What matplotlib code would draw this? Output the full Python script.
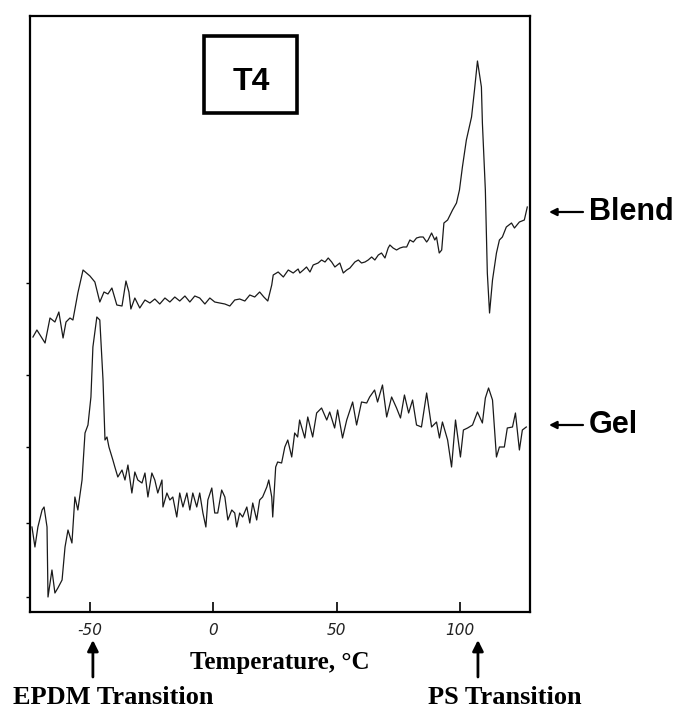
import numpy as np
import matplotlib
matplotlib.use("Agg")
import matplotlib.pyplot as plt
from matplotlib.patches import Rectangle

# DMTA-type traces (signal in arbitrary units)
blend_temp = [-73.1, -71.5, -68.2, -66.2, -64.2, -62.6, -60.9, -59.7, -58.1, -56.9,
              -54.9, -52.8, -50.0, -48.0, -46.0, -44.3, -42.7, -41.1, -39.1, -37.0,
              -35.4, -34.2, -33.4, -31.8, -29.8, -27.7, -25.7, -23.7, -21.7, -19.6,
              -17.6, -15.6, -13.6, -11.5, -9.5, -7.5, -5.5, -3.4, -1.4, 0.6,
              2.6, 4.7, 6.7, 8.7, 10.7, 12.8, 14.8, 16.8, 18.8, 20.5,
              22.1, 23.7, 24.3, 26.3, 28.4, 30.4, 32.4, 34.4, 35.1, 36.5,
              37.8, 39.2, 40.5, 42.5, 43.9, 45.3, 46.6, 48.0, 49.3, 51.3,
              52.7, 54.1, 55.4, 57.4, 58.8, 60.1, 61.5, 62.8, 64.2, 65.5,
              66.9, 68.2, 69.6, 70.9, 71.6, 72.9, 74.3, 75.7, 77.0, 78.4,
              79.7, 81.1, 82.4, 83.8, 85.1, 86.5, 87.1, 88.5, 89.8, 90.5,
              91.6, 92.6, 93.5, 95.0, 97.0, 98.6, 99.8, 101.0, 102.6, 104.7,
              105.9, 107.1, 108.7, 109.1, 110.3, 111.1, 112.0, 113.2, 114.8, 116.0,
              117.2, 118.8, 120.9, 122.1, 124.1, 126.1, 127.3]
blend_sig = [275, 282, 269, 294, 290, 300, 274, 290, 294, 292,
             319, 342, 336, 330, 310, 320, 318, 324, 307, 306,
             331, 320, 303, 314, 304, 312, 309, 313, 308, 314,
             310, 315, 311, 316, 310, 316, 314, 308, 314, 310,
             309, 308, 306, 312, 313, 311, 317, 315, 320, 315,
             311, 327, 337, 340, 335, 342, 339, 343, 339, 342,
             345, 340, 347, 349, 352, 350, 354, 350, 345, 349,
             339, 342, 344, 350, 352, 349, 350, 352, 355, 352,
             357, 359, 354, 364, 367, 364, 362, 364, 365, 365,
             372, 370, 374, 375, 375, 370, 372, 379, 372, 375,
             359, 362, 389, 392, 402, 409, 422, 445, 472, 495,
             522, 551, 525, 489, 422, 339, 299, 332, 359, 372,
             375, 385, 389, 384, 390, 392, 405]

gel_temp = [-73.5, -72.3, -71.1, -69.4, -68.6, -67.4, -67.0, -65.4, -64.2, -63.0,
            -61.3, -60.1, -58.9, -57.3, -56.1, -54.9, -53.2, -52.0, -50.8, -49.6,
            -48.8, -47.2, -46.0, -44.7, -43.9, -43.1, -42.3, -40.7, -39.9, -38.7,
            -37.0, -35.8, -34.6, -33.0, -31.8, -30.6, -28.9, -27.7, -26.5, -24.9,
            -23.7, -22.5, -20.8, -20.4, -18.8, -17.6, -16.4, -14.8, -13.6, -12.3,
            -10.7, -9.5, -8.3, -6.7, -5.5, -4.2, -3.0, -2.2, -0.6, 0.6,
            1.8, 3.4, 4.7, 5.9, 7.5, 8.7, 9.5, 10.7, 11.9, 13.6,
            14.8, 16.0, 17.6, 18.8, 20.0, 21.7, 22.5, 23.7, 24.1, 25.3,
            26.1, 27.7, 29.0, 30.2, 31.8, 33.0, 34.2, 35.0, 37.1, 38.3,
            40.3, 41.9, 43.9, 46.0, 47.2, 49.2, 50.4, 52.4, 54.1, 56.5,
            58.1, 60.1, 62.2, 63.4, 65.4, 66.6, 68.6, 70.3, 72.3, 74.3,
            75.9, 77.5, 79.2, 80.8, 82.4, 84.4, 86.5, 88.5, 90.5, 91.7,
            92.9, 95.0, 96.6, 98.2, 100.2, 101.4, 103.1, 105.1, 107.1, 109.1,
            110.3, 111.6, 113.2, 114.8, 116.0, 118.0, 119.2, 121.3, 122.5, 124.1,
            125.3, 126.9]
gel_sig = [85, 65, 85, 102, 105, 85, 15, 42, 19, 24,
           32, 65, 82, 69, 115, 102, 132, 179, 187, 215,
           265, 295, 292, 232, 172, 175, 165, 152, 145, 135,
           142, 132, 147, 119, 140, 132, 129, 139, 115, 139,
           132, 119, 132, 105, 119, 112, 115, 95, 119, 105,
           119, 102, 119, 105, 119, 99, 85, 112, 124, 99,
           99, 122, 115, 92, 102, 99, 85, 99, 95, 105,
           89, 109, 92, 112, 115, 125, 132, 115, 95, 145,
           150, 149, 165, 172, 155, 179, 175, 192, 174, 195,
           175, 199, 204, 192, 200, 184, 202, 174, 192, 210,
           187, 210, 209, 215, 222, 210, 227, 195, 215, 204,
           194, 217, 199, 212, 187, 185, 219, 185, 190, 174,
           190, 172, 145, 192, 155, 182, 184, 187, 200, 189,
           214, 224, 212, 155, 165, 165, 184, 185, 199, 162,
           182, 185]

x_ticks = [-50, 0, 50, 100]
x_ticklabels = ['-50', '0', '50', '100']
y_ticks = [15, 89, 165, 237, 329]

W, H = 683, 710
fig = plt.figure(figsize=(W / 100, H / 100), dpi=100)
ax = fig.add_axes([30 / W, 1 - 612 / H, 500 / W, 596 / H])

ax.plot(blend_temp, blend_sig, color='#1a1a1a', lw=0.9)
ax.plot(gel_temp, gel_sig, color='#1a1a1a', lw=0.9)

ax.set_xlim(-74.3, 128.4)
ax.set_ylim(0, 596)
for s in ax.spines.values():
    s.set_linewidth(1.6)

ax.set_xticks(x_ticks)
ax.set_xticklabels(x_ticklabels, fontsize=11, style='italic', color='#222222')
ax.tick_params(axis='x', direction='in', length=7, width=1.2, pad=8)
ax.set_yticks(y_ticks)
ax.set_yticklabels([])
ax.tick_params(axis='y', direction='out', length=3, width=1.0)

ax.set_xlabel('Temperature, °C', family='Liberation Serif', fontweight='bold',
              fontsize=18, labelpad=9)

# T4 label box
ax.add_patch(Rectangle((204 / W, 1 - 113 / H), 93 / W, 77 / H, transform=fig.transFigure,
                       fill=False, lw=2.6, ec='black', clip_on=False))
fig.text(251 / W, 1 - 82 / H, 'T4', ha='center', va='center', fontsize=23,
         fontweight='bold', family='Liberation Sans')

# right-hand curve labels
for lab, y in [('Blend', 212), ('Gel', 425)]:
    fig.text(589 / W, 1 - y / H, lab, ha='left', va='center', fontsize=22,
             fontweight='bold', family='Liberation Sans')
    ax.annotate('', xy=(549, H - y), xycoords='figure pixels',
                xytext=(583, H - y), textcoords='figure pixels',
                arrowprops=dict(arrowstyle='-|>', lw=1.6, color='black',
                                mutation_scale=11, shrinkA=0, shrinkB=0))

# transition markers under the axis
for t, lab, cx in [(-48.8, 'EPDM Transition', 113), (107.3, 'PS Transition', 505)]:
    ax.annotate('', xy=(t, H - 640), xycoords=('data', 'figure pixels'),
                xytext=(t, H - 677), textcoords=('data', 'figure pixels'),
                arrowprops=dict(arrowstyle='-|>', lw=2.0, color='black',
                                mutation_scale=16, shrinkA=0, shrinkB=0))
    fig.text(cx / W, 1 - 697 / H, lab, ha='center', va='center', fontsize=19,
             fontweight='bold', family='Liberation Serif')

fig.savefig('out.png', dpi=100)
